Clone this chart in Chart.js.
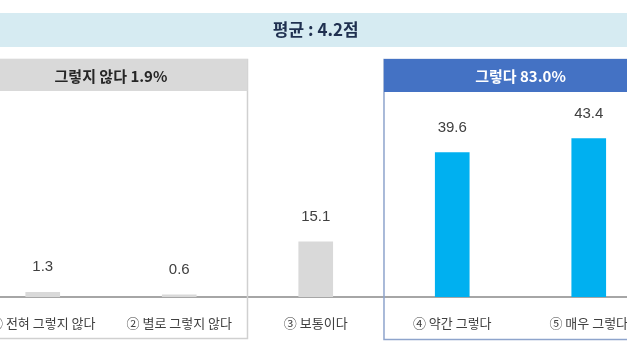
<!DOCTYPE html>
<html>
<head>
<meta charset="utf-8">
<script src="https://cdn.jsdelivr.net/npm/chart.js@4/dist/chart.umd.min.js"></script>
<style>
  html, body { margin:0; padding:0; background:#fff; width:627px; height:355px; overflow:hidden; }
  #wrap { position:absolute; left:-28px; top:0; width:685px; height:355px; }
</style>
</head>
<body>
<div id="wrap"><canvas id="c" width="685" height="355"></canvas></div>
<script>
const categories = ['① 전혀 그렇지 않다', '② 별로 그렇지 않다', '③ 보통이다', '④ 약간 그렇다', '⑤ 매우 그렇다'];
const values = [1.3, 0.6, 15.1, 39.6, 43.4];
const valueLabels = ['1.3', '0.6', '15.1', '39.6', '43.4'];
const barColors = ['#d9d9d9', '#d9d9d9', '#d9d9d9', '#00b0f0', '#00b0f0'];
const titleText = '평균 : 4.2점';
const groupNo = '그렇지 않다 1.9%';
const groupYes = '그렇다 83.0%';

const KR = '"Noto Sans CJK KR", "Noto Sans", sans-serif';
const NUM = '"Liberation Sans", Arial, sans-serif';

const decor = {
  id: 'decor',
  beforeDatasetsDraw(chart) {
    const ctx = chart.ctx, x = chart.scales.x;
    const W = chart.width;
    ctx.save();
    // banner
    ctx.fillStyle = '#d6ebf2';
    ctx.fillRect(0, 13, W, 34);
    ctx.fillStyle = '#1f3050';
    ctx.font = 'bold 17px ' + KR;
    ctx.textAlign = 'center';
    ctx.textBaseline = 'middle';
    ctx.fillText(titleText, x.getPixelForValue(2), 30);
    // gray group box
    const g1 = x.getPixelForValue(1.5);
    ctx.strokeStyle = '#d0d0d0';
    ctx.lineWidth = 1.5;
    ctx.strokeRect(-2, 59.5, g1 + 2, 279);
    ctx.fillStyle = '#d9d9d9';
    ctx.fillRect(0, 59, g1, 32);
    ctx.fillStyle = '#262626';
    ctx.font = 'bold 15px ' + KR;
    ctx.fillText(groupNo, x.getPixelForValue(0.5), 76);
    // blue group box
    const b1 = x.getPixelForValue(2.5);
    ctx.strokeStyle = '#8ea4cc';
    ctx.strokeRect(b1, 59.5, W - b1 + 5, 280);
    ctx.fillStyle = '#4472c4';
    ctx.fillRect(b1, 59, W - b1, 33);
    ctx.fillStyle = '#ffffff';
    ctx.fillText(groupYes, x.getPixelForValue(3.5), 76);
    ctx.restore();
  },
  afterDatasetsDraw(chart) {
    const ctx = chart.ctx;
    const meta = chart.getDatasetMeta(0);
    ctx.save();
    ctx.fillStyle = '#404040';
    ctx.font = '15px ' + NUM;
    ctx.textAlign = 'center';
    ctx.textBaseline = 'middle';
    meta.data.forEach((bar, i) => {
      ctx.fillText(valueLabels[i], bar.x, bar.y - 25);
    });
    ctx.restore();
  }
};

new Chart(document.getElementById('c'), {
  type: 'bar',
  data: {
    labels: categories,
    datasets: [{
      data: values,
      backgroundColor: barColors,
      borderWidth: 0,
      barThickness: 34
    }]
  },
  options: {
    responsive: false,
    animation: false,
    layout: { padding: { top: 114.5, bottom: 6.4, left: 0, right: 0 } },
    plugins: { legend: { display: false }, tooltip: { enabled: false } },
    scales: {
      x: {
        grid: { display: false, drawTicks: false },
        border: { display: true, color: '#a6a6a6', width: 2 },
        ticks: { color: '#404040', font: { family: KR, size: 13 }, padding: 18, maxRotation: 0, autoSkip: false }
      },
      y: {
        display: false,
        min: 0, max: 50
      }
    }
  },
  plugins: [decor]
});
</script>
</body>
</html>
